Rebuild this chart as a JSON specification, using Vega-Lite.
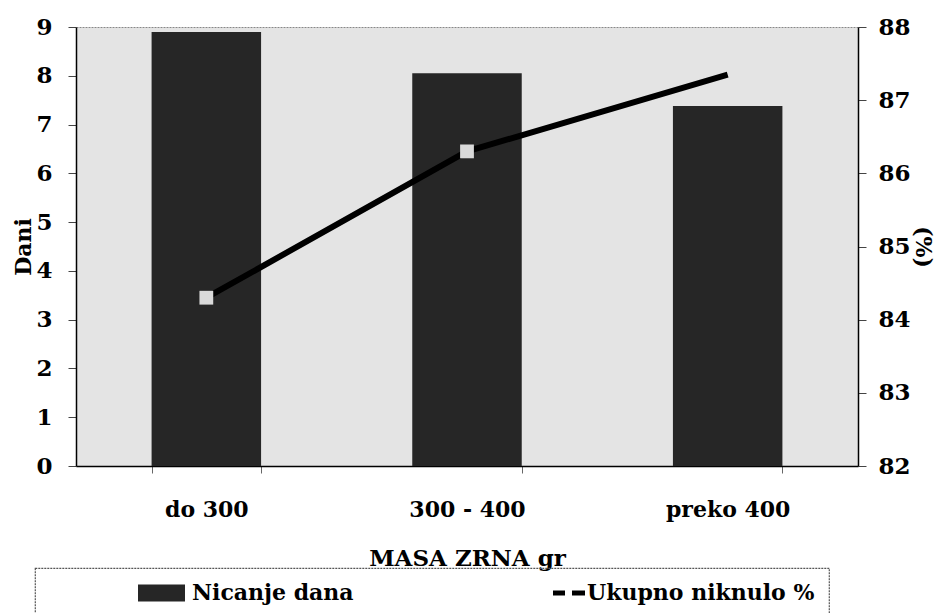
{
  "$schema": "https://vega.github.io/schema/vega-lite/v6.json",
  "width": 782,
  "height": 439,
  "autosize": "none",
  "padding": {"left": 76, "top": 27, "right": 81, "bottom": 147},
  "background": "white",
  "config": {
    "view": {"fill": "#e4e4e4", "stroke": "#888888", "strokeDash": [2, 1]},
    "font": "DejaVu Serif",
    "axis": {
      "labelFont": "DejaVu Serif",
      "labelFontWeight": "bold",
      "labelColor": "black",
      "titleFont": "DejaVu Serif",
      "titleFontWeight": "bold",
      "titleColor": "black",
      "domainColor": "black",
      "domainWidth": 1.5,
      "tickColor": "#444444",
      "grid": false
    }
  },
  "data": {
    "values": [
      {"masa": "do 300", "dani": 8.9, "niknulo": 84.3},
      {"masa": "300 - 400", "dani": 8.05, "niknulo": 86.3},
      {"masa": "preko 400", "dani": 7.38, "niknulo": 87.35}
    ]
  },
  "layer": [
    {
      "mark": {"type": "bar"},
      "encoding": {
        "x": {
          "field": "masa",
          "type": "nominal",
          "sort": null,
          "scale": {"paddingInner": 0.58, "paddingOuter": 0.29},
          "axis": {
            "title": "MASA ZRNA  gr",
            "labelAngle": 0,
            "labelFontSize": 22,
            "titleFontSize": 23,
            "tickBand": "extent",
            "tickSize": 7,
            "tickColor": "#666666",
            "labelPadding": 26,
            "titlePadding": 27
          }
        },
        "y": {
          "field": "dani",
          "type": "quantitative",
          "scale": {"domain": [0, 9]},
          "axis": {
            "title": "Dani",
            "values": [0, 1, 2, 3, 4, 5, 6, 7, 8, 9],
            "format": "d",
            "labelFontSize": 23,
            "titleFontSize": 22,
            "tickSize": 8,
            "labelPadding": 16,
            "titlePadding": 0
          }
        },
        "color": {
          "datum": "Nicanje dana",
          "type": "nominal",
          "scale": {"domain": ["Nicanje dana", "Ukupno niknulo %"], "range": ["#262626", "#000000"]},
          "legend": {
            "orient": "none",
            "legendX": -41,
            "legendY": 541,
            "direction": "horizontal",
            "title": null,
            "padding": 14,
            "strokeColor": "#555555",
            "symbolOffset": 101.5,
            "symbolSize": 400,
            "labelOffset": 19.5,
            "columnPadding": 90,
            "labelFont": "DejaVu Serif",
            "labelFontWeight": "bold",
            "labelFontSize": 22,
            "labelColor": "black",
            "labelLimit": 600,
            "labelExpr": "datum.label === 'Ukupno niknulo %' ? datum.label + '             ' : datum.label",
            "encode": {
              "symbols": {
                "update": {
                  "shape": {"signal": "datum.value === 'Nicanje dana' ? 'M-2.35,-0.85H2.35V0.85H-2.35Z' : 'M-0.35,-0.25H0.85V0.25H-0.35Z M1.55,-0.25H2.85V0.25H1.55Z'"},
                  "fill": {"signal": "datum.value === 'Nicanje dana' ? '#262626' : '#000000'"},
                  "stroke": {"value": "transparent"},
                  "strokeWidth": {"value": 0},
                  "opacity": {"value": 1}
                }
              },
              "legend": {"update": {"strokeDash": {"value": [2, 1]}, "strokeWidth": {"value": 1.2}}}
            }
          }
        }
      }
    },
    {
      "layer": [
        {
          "mark": {"type": "line", "strokeWidth": 6, "strokeCap": "butt"},
          "encoding": {
            "x": {"field": "masa", "type": "nominal", "sort": null},
            "y": {
              "field": "niknulo",
              "type": "quantitative",
              "scale": {"domain": [82, 88]},
              "axis": {
                "title": "(%)",
                "orient": "right",
                "values": [82, 83, 84, 85, 86, 87, 88],
                "format": "d",
                "labelFontSize": 23,
                "titleFontSize": 22,
                "tickSize": 8,
                "labelPadding": 12,
                "titlePadding": 0
              }
            },
            "color": {"datum": "Ukupno niknulo %", "type": "nominal"}
          }
        },
        {
          "transform": [{"filter": "datum.masa !== 'preko 400'"}],
          "mark": {"type": "point", "shape": "square", "filled": true, "size": 190, "fill": "#d9d9d9", "opacity": 1, "strokeWidth": 0},
          "encoding": {
            "x": {"field": "masa", "type": "nominal", "sort": null},
            "y": {"field": "niknulo", "type": "quantitative"}
          }
        }
      ]
    }
  ],
  "resolve": {"scale": {"y": "independent"}}
}
